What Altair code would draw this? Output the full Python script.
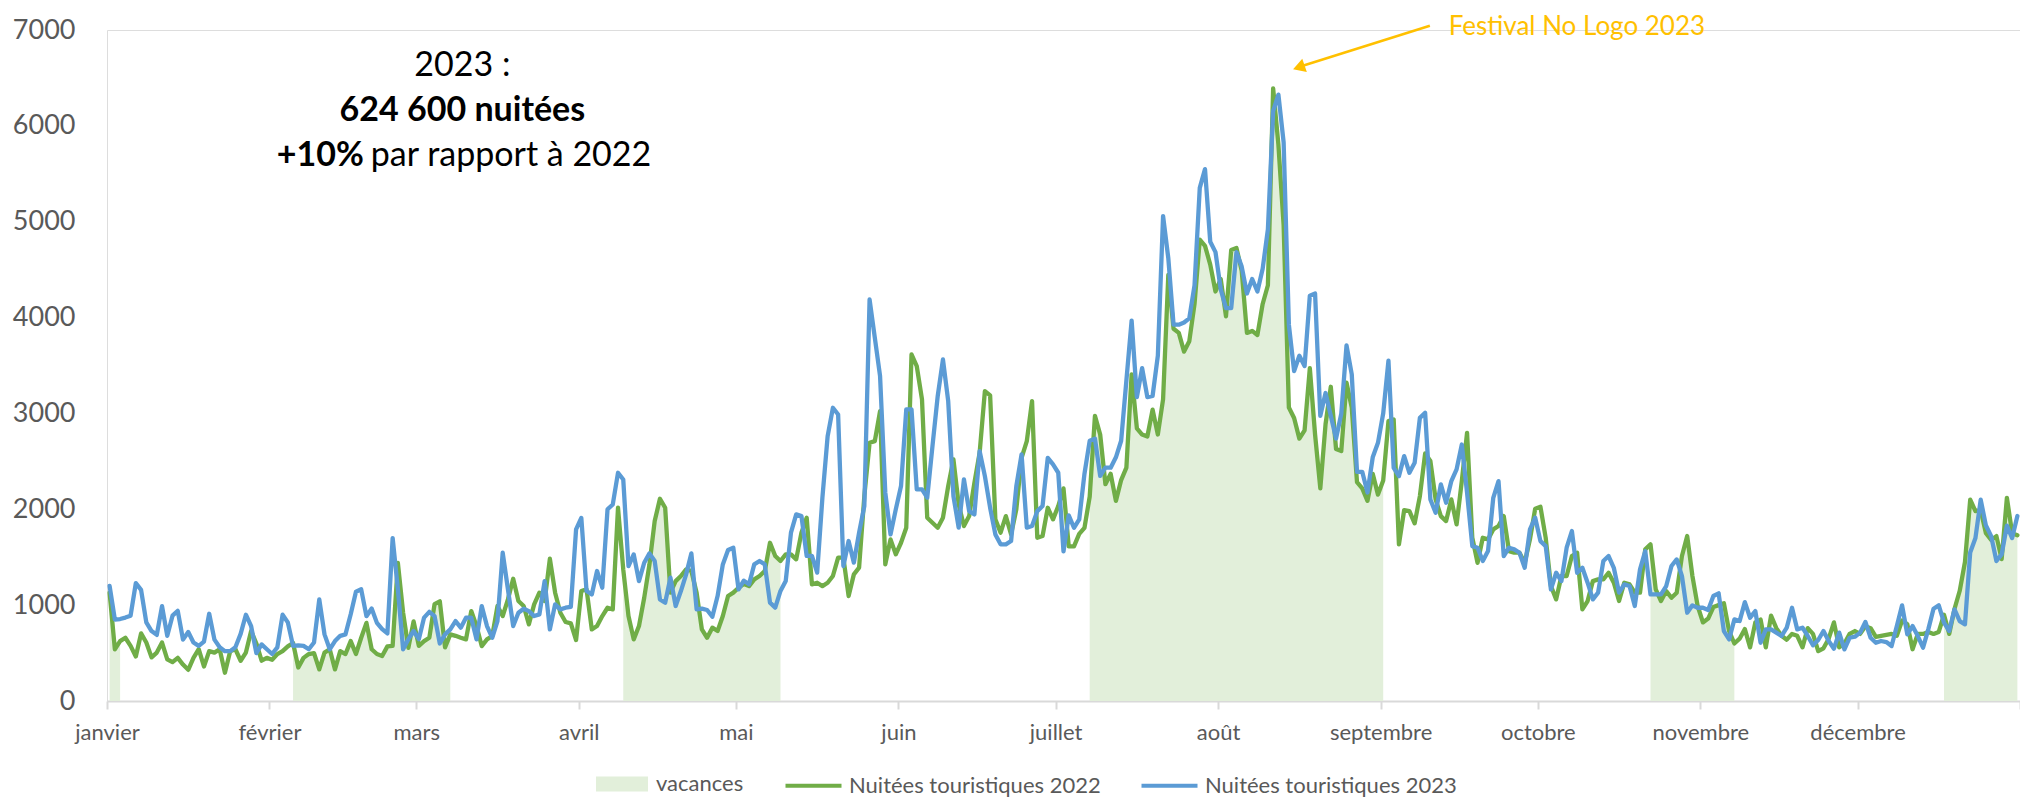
import altair as alt
import pandas as pd

# ---------------- data ----------------
MONTH_NAMES = ["janvier", "février", "mars", "avril", "mai", "juin", "juillet",
               "août", "septembre", "octobre", "novembre", "décembre"]
MONTH_START = [0, 31, 59, 90, 120, 151, 181, 212, 243, 273, 304, 334, 365]

SERIE_VAC = "vacances"
SERIE_22 = "Nuitées touristiques 2022"
SERIE_23 = "Nuitées touristiques 2023"

# Nuitées touristiques 2022 (daily, by month)
g_jan = [1130, 540, 625, 660, 575, 465, 705, 610, 455, 505, 610, 435, 405, 450, 380, 325, 450, 540, 360, 520, 505, 540, 295, 520, 540, 420, 505, 730, 600, 420, 450]
g_feb = [430, 490, 520, 570, 605, 350, 450, 490, 500, 330, 505, 540, 330, 520, 490, 625, 490, 660, 815, 540, 490, 470, 570, 575, 1440, 920, 555, 830]
g_mar = [575, 625, 660, 1010, 1040, 560, 695, 680, 660, 643, 938, 782, 573, 643, 678, 991, 886, 1060, 1275, 1043, 991, 800, 1008, 1130, 1043, 1484, 1130, 921, 824, 810, 636]
g_apr = [1147, 1164, 747, 782, 886, 973, 956, 2016, 1373, 886, 643, 782, 1077, 1425, 1877, 2110, 2016, 1130, 1251, 1304, 1373, 1356, 1130, 747, 660, 765, 730, 886, 1095, 1130]
g_may = [1182, 1220, 1199, 1269, 1304, 1356, 1651, 1513, 1460, 1530, 1530, 1478, 1756, 1912, 1217, 1234, 1199, 1234, 1304, 1495, 1495, 1095, 1321, 1391, 2138, 2694, 2711, 3024, 1426, 1686, 1530]
g_jun = [1651, 1808, 3615, 3494, 3146, 1912, 1860, 1808, 1912, 2242, 2520, 2051, 1825, 1929, 2277, 2590, 3233, 3188, 1895, 1756, 1929, 1738, 1999, 2537, 2711, 3129, 1703, 1721, 2016, 1895]
g_jul = [2034, 2218, 1613, 1613, 1743, 1807, 2132, 2975, 2780, 2262, 2370, 2088, 2305, 2434, 3407, 2845, 2780, 2759, 3040, 2780, 3148, 4445, 3883, 3840, 3645, 3753, 4142, 4813, 4748, 4553, 4272]
g_aug = [4402, 4013, 4705, 4726, 4488, 3840, 3861, 3818, 4142, 4337, 6391, 5807, 4964, 3061, 2953, 2737, 2824, 3472, 2780, 2218, 2888, 3278, 2629, 2607, 3321, 3061, 2283, 2218, 2088, 2370, 2153]
g_sep = [2300, 2920, 2937, 1634, 1992, 1981, 1853, 2138, 2583, 2503, 2103, 1929, 1877, 2103, 1842, 2294, 2798, 1703, 1442, 1703, 1686, 1790, 1825, 1929, 1564, 1547, 1547, 1442, 1686, 2006]
g_oct = [2026, 1703, 1199, 1060, 1304, 1304, 1512, 1547, 956, 1043, 1251, 1269, 1269, 1338, 1234, 1043, 1234, 1217, 1130, 1130, 1582, 1634, 1164, 1043, 1147, 1077, 1130, 1512, 1721, 1303, 991]
g_nov = [820, 860, 980, 1000, 1020, 730, 600, 650, 750, 560, 820, 850, 560, 890, 760, 680, 640, 700, 680, 560, 760, 700, 520, 550, 650, 820, 560, 600, 700, 730]
g_dec = [700, 780, 760, 670, 680, 690, 700, 680, 840, 800, 540, 700, 700, 720, 700, 720, 900, 700, 960, 1150, 1450, 2100, 1980, 1990, 1750, 1680, 1720, 1480, 2120, 1750, 1730]

# Nuitées touristiques 2023 (daily, by month)
b_jan = [1200, 850, 855, 870, 890, 1230, 1160, 820, 730, 690, 990, 680, 890, 940, 640, 720, 610, 575, 620, 910, 640, 560, 520, 520, 560, 700, 900, 780, 500, 590, 540]
b_feb = [490, 560, 900, 820, 575, 580, 575, 540, 610, 1060, 695, 540, 625, 680, 695, 905, 1140, 1165, 885, 965, 815, 750, 705, 1700, 1165, 540, 645, 730]
b_mar = [645, 870, 930, 886, 600, 695, 747, 834, 765, 869, 869, 643, 990, 782, 660, 834, 1547, 1164, 782, 921, 963, 938, 886, 904, 1251, 747, 1008, 956, 973, 983, 1790]
b_apr = [1910, 1147, 1112, 1356, 1182, 2000, 2050, 2381, 2311, 1408, 1529, 1251, 1442, 1540, 1460, 1060, 1025, 1286, 991, 1147, 1321, 1540, 956, 963, 949, 879, 1095, 1425, 1575, 1599]
b_may = [1164, 1255, 1217, 1426, 1460, 1426, 1026, 974, 1148, 1252, 1756, 1947, 1929, 1513, 1513, 1339, 2121, 2764, 3059, 2989, 1408, 1669, 1443, 1756, 2034, 4189, 3789, 3390, 2173, 1738, 1999]
b_jun = [2242, 3042, 3042, 2207, 2207, 2121, 2659, 3181, 3563, 3129, 2138, 1808, 2312, 1981, 1947, 2607, 2346, 2016, 1738, 1634, 1634, 1669, 2242, 2572, 1808, 1825, 1981, 2034, 2537, 2468]
b_jul = [2381, 1560, 1937, 1807, 1894, 2370, 2715, 2737, 2348, 2434, 2434, 2542, 2715, 3343, 3969, 3170, 3472, 3170, 3183, 3602, 5059, 4618, 3926, 3926, 3948, 3991, 4337, 5353, 5548, 4791, 4683]
b_aug = [4294, 4099, 4100, 4683, 4532, 4251, 4402, 4272, 4510, 4921, 6153, 6326, 5829, 3926, 3442, 3602, 3494, 4229, 4251, 2975, 3213, 2975, 2737, 2996, 3710, 3407, 2391, 2391, 2175, 2542, 2694]
b_sep = [3000, 3550, 2433, 2346, 2555, 2381, 2485, 2954, 3007, 2103, 1964, 2259, 2068, 2294, 2416, 2676, 2172, 1616, 1599, 1460, 1564, 2120, 2294, 1512, 1599, 1582, 1547, 1390, 1790, 1912]
b_oct = [1668, 1616, 1164, 1338, 1251, 1599, 1773, 1338, 1390, 1234, 1060, 1130, 1460, 1512, 1390, 1130, 1217, 1199, 991, 1373, 1564, 1112, 1112, 1112, 1199, 1408, 1477, 1303, 921, 998, 973]
b_nov = [973, 949, 1095, 1123, 730, 643, 851, 834, 1032, 869, 938, 608, 747, 747, 713, 678, 765, 973, 747, 765, 678, 581, 636, 730, 626, 546, 713, 539, 660, 671]
b_dec = [713, 824, 660, 608, 626, 615, 573, 782, 998, 695, 782, 678, 556, 747, 963, 998, 817, 730, 956, 834, 800, 1550, 1700, 2100, 1830, 1720, 1460, 1530, 1830, 1700, 1930]

# school holiday periods (first day index, last day index)
VACANCES = [(0, 2), (35, 65), (98, 128), (187, 243), (294, 310), (350, 364)]

# annotation texts
SUMMARY_1 = "2023 :"
SUMMARY_2 = "624 600 nuitées"
SUMMARY_3A = "+10%"
SUMMARY_3B = "par rapport à 2022"
FESTIVAL = "Festival No Logo 2023"

# ---------------- build tables ----------------
n22 = g_jan + g_feb + g_mar + g_apr + g_may + g_jun + g_jul + g_aug + g_sep + g_oct + g_nov + g_dec
n23 = b_jan + b_feb + b_mar + b_apr + b_may + b_jun + b_jul + b_aug + b_sep + b_oct + b_nov + b_dec
assert len(n22) == 365 and len(n23) == 365

df22 = pd.DataFrame({"x": [d + 0.5 for d in range(365)], "v": n22, "serie": SERIE_22})
df23 = pd.DataFrame({"x": [d + 0.5 for d in range(365)], "v": n23, "serie": SERIE_23})
vac_rows = []
for p, (s, e) in enumerate(VACANCES):
    for d in range(s, e + 1):
        vac_rows.append({"x": d + 0.5, "v": n22[d], "period": f"p{p}", "serie": SERIE_VAC})
dfvac = pd.DataFrame(vac_rows)

# ---------------- styling ----------------
FONT = "Lato"
GREY = "#595959"
AXIS_GREY = "#D9D9D9"
C_VAC, C22, C23 = "#E2EFDA", "#70AD47", "#5B9BD5"
ORANGE = "#FFC000"

label_expr = " : ".join(
    f"datum.value == {s} ? '{n}'" for s, n in zip(MONTH_START[:-1], MONTH_NAMES)
) + " : ''"

x_axis = alt.Axis(values=MONTH_START, labelExpr=label_expr, title=None, grid=False,
                  domainColor=AXIS_GREY, domainWidth=2, tickColor=AXIS_GREY, tickWidth=2,
                  tickSize=8, labelFontSize=22, labelColor=GREY, labelFont=FONT,
                  labelPadding=13, labelFlush=False, labelOverlap=False)
y_axis = alt.Axis(values=list(range(0, 7001, 1000)), format="d", title=None, grid=False,
                  domain=False, ticks=False, tickSize=0, labelFontSize=27, labelColor=GREY,
                  labelFont=FONT, labelPadding=32)
x_scale = alt.Scale(domain=[0, 365], nice=False, zero=False)
y_scale = alt.Scale(domain=[0, 7000], nice=False)

x_enc = alt.X("x:Q", scale=x_scale, axis=x_axis)
y_enc = alt.Y("v:Q", scale=y_scale, axis=y_axis)
y_area = alt.Y("v:Q", scale=y_scale, axis=y_axis, stack=None)

# legend symbols: small layout box, wide drawn path (rect for holidays, stroke for lines)
SYM = 400  # layout box 20 x 20 px; path coords scaled by 10 px per unit
fill_enc = alt.Fill("serie:N",
                    scale=alt.Scale(domain=[SERIE_VAC], range=[C_VAC]),
                    legend=alt.Legend(title=None, orient="none", legendX=504, legendY=743,
                                      direction="horizontal",
                                      labelFont=FONT, labelFontSize=22, labelColor=GREY, labelLimit=400,
                                      labelOffset=23, symbolType="M-2.6,-0.75H2.6V0.75H-2.6Z",
                                      symbolSize=SYM, symbolStrokeWidth=0, symbolOpacity=1))
stroke_enc = alt.Stroke("serie:N",
                        scale=alt.Scale(domain=[SERIE_22, SERIE_23], range=[C22, C23]),
                        legend=alt.Legend(title=None, orient="none", legendX=694, legendY=743,
                                          direction="horizontal",
                                          labelFont=FONT, labelFontSize=22, labelColor=GREY,
                                          labelLimit=400, labelOffset=23, columnPadding=32,
                                          symbolType="M-2.8,0H2.8", symbolSize=SYM,
                                          symbolStrokeWidth=4.2, symbolOpacity=1))

area = alt.Chart(dfvac).mark_area(opacity=1, fillOpacity=1, interpolate="linear").encode(
    x=x_enc, y=y_area, detail="period:N", fill=fill_enc)

line22 = alt.Chart(df22).mark_line(strokeWidth=4.3, strokeJoin="round", strokeCap="round").encode(
    x=x_enc, y=y_enc, stroke=stroke_enc)
line23 = alt.Chart(df23).mark_line(strokeWidth=4.3, strokeJoin="round", strokeCap="round").encode(
    x=x_enc, y=y_enc, stroke=stroke_enc)

# annotations, positioned in data units (day of year, nuitées)
def text_layer(df, **kw):
    return alt.Chart(df).mark_text(font=FONT, baseline="middle", **kw).encode(
        x=alt.X("x:Q"), y=alt.Y("v:Q"), text="label:N")

t1 = text_layer(pd.DataFrame({"x": [67.8], "v": [6623], "label": [SUMMARY_1]}),
                fontSize=34, align="center", color="black")
t2 = text_layer(pd.DataFrame({"x": [67.8], "v": [6153], "label": [SUMMARY_2]}),
                fontSize=34, align="center", color="black", fontWeight="bold")
t3a = text_layer(pd.DataFrame({"x": [49.0], "v": [5684], "label": [SUMMARY_3A]}),
                 fontSize=34, align="right", color="black", fontWeight="bold")
t3b = text_layer(pd.DataFrame({"x": [49.0], "v": [5684], "label": [SUMMARY_3B]}),
                 fontSize=34, align="left", color="black", dx=7)
tfest = text_layer(pd.DataFrame({"x": [256.0], "v": [7036], "label": [FESTIVAL]}),
                   fontSize=26, align="left", color=ORANGE)

arrow_line = alt.Chart(pd.DataFrame({"x": [252.4], "v": [7045], "x2": [228.0], "v2": [6625]})).mark_rule(
    color=ORANGE, strokeWidth=2.5).encode(x="x:Q", y="v:Q", x2="x2:Q", y2="v2:Q")
arrow_head = alt.Chart(pd.DataFrame({"x": [227.4], "v": [6610]})).mark_point(
    shape="triangle-up", filled=True, size=196, angle=251, color=ORANGE, opacity=1).encode(
    x="x:Q", y="v:Q")

chart = alt.layer(area, line22, line23, t1, t2, t3a, t3b, tfest, arrow_line, arrow_head).properties(
    width=1913, height=671,
    autosize=alt.AutoSizeParams(type="none"),
    padding={"left": 99, "top": 22, "right": 0, "bottom": 96},
    background="white",
).configure_view(stroke=None).configure(font=FONT)

chart.save("out.html", embed_options={"renderer": "svg", "actions": False})
